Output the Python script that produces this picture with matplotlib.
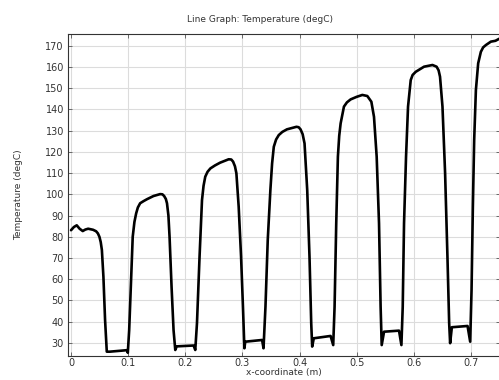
import matplotlib
matplotlib.use("Agg")
import matplotlib.pyplot as plt

x_m = [0.000, 0.005, 0.010, 0.015, 0.0205, 0.025, 0.030, 0.0386, 0.0439, 0.047, 0.0497, 0.052, 0.054, 0.0567, 0.0596, 0.0626,
       0.068, 0.098, 0.0994,
       0.1018, 0.1047, 0.108, 0.111, 0.114, 0.117, 0.121, 0.127, 0.133, 0.1444, 0.156, 0.160, 0.163, 0.166, 0.168, 0.1705, 0.1725, 0.176, 0.1795, 0.1825,
       0.185, 0.2146, 0.2175,
       0.2205, 0.225, 0.2293, 0.232, 0.235, 0.239, 0.244, 0.252, 0.261, 0.276, 0.2805, 0.2837, 0.287, 0.2895, 0.2935, 0.2977, 0.301, 0.3035,
       0.305, 0.3345, 0.337,
       0.3404, 0.3444, 0.349, 0.352, 0.355, 0.359, 0.3637, 0.370, 0.378, 0.3947, 0.3985, 0.4018, 0.4055, 0.4088, 0.4135, 0.4175, 0.4205, 0.4222,
       0.425, 0.4544, 0.459,
       0.4614, 0.4643, 0.4672, 0.4695, 0.472, 0.4778, 0.483, 0.4895, 0.500, 0.510, 0.5187, 0.5258, 0.5304, 0.5351, 0.5392, 0.542, 0.5439,
       0.548, 0.5742, 0.5784,
       0.5807, 0.583, 0.5865, 0.590, 0.5947, 0.598, 0.6035, 0.618, 0.6328, 0.640, 0.6435, 0.646, 0.6503, 0.6549, 0.659, 0.662, 0.6637,
       0.6667, 0.6942, 0.6988,
       0.7012, 0.7035, 0.7058, 0.7088, 0.7128, 0.7175, 0.7215, 0.7263, 0.735, 0.743, 0.750]
temp_c = [83.1, 84.6, 85.4, 83.8, 82.7, 83.4, 83.8, 83.3, 82.6, 81.6, 80.0, 77.5, 73.8, 61.2, 40.8, 25.9,
          25.9, 26.6, 25.4,
          36.0, 56.5, 80.0, 87.0, 91.0, 93.8, 95.8, 96.8, 97.7, 99.2, 100.1, 100.0, 99.2, 97.8, 95.8, 90.0, 80.0, 56.5, 36.0, 26.7,
          28.4, 28.8, 26.7,
          39.3, 70.6, 97.3, 104.0, 108.3, 110.6, 112.2, 113.6, 114.9, 116.5, 116.4, 115.4, 113.2, 109.9, 94.2, 70.6, 47.0, 27.5,
          30.6, 31.4, 27.5,
          47.0, 78.5, 102.0, 114.5, 122.4, 125.8, 127.9, 129.4, 130.6, 131.8, 131.6, 130.6, 128.3, 124.0, 102.0, 70.6, 39.3, 28.3,
          32.2, 33.3, 29.0,
          47.0, 86.4, 117.7, 127.5, 133.4, 141.3, 143.3, 144.7, 145.9, 146.8, 146.3, 143.6, 136.5, 117.7, 86.4, 47.0, 29.0,
          35.3, 35.8, 29.0,
          47.0, 86.4, 117.7, 141.3, 153.8, 156.2, 157.7, 160.1, 160.9, 160.1, 158.4, 155.4, 141.3, 109.9, 70.6, 39.3, 29.9,
          37.4, 38.0, 30.6,
          55.0, 94.2, 125.6, 149.1, 161.7, 167.1, 169.2, 170.3, 171.9, 172.3, 173.3]

xticks = [0, 0.1, 0.2, 0.3, 0.4, 0.5, 0.6, 0.7]
xtick_labels = ["0", "0.1", "0.2", "0.3", "0.4", "0.5", "0.6", "0.7"]
yticks = list(range(30, 171, 10))

plt.rcParams['font.family'] = ['DejaVu Sans']
fig = plt.figure(figsize=(4.99, 3.80), dpi=100)
ax = fig.add_axes([68/499, 1-355.7/380, 1-68/499 + 0.002, (355.7-34)/380])
ax.plot(x_m, temp_c, color='black', lw=1.9, solid_joinstyle='round', solid_capstyle='round')
ax.set_xlim(-0.0053, 0.751)
ax.set_ylim(24.0, 175.5)
ax.set_xticks(xticks)
ax.set_xticklabels(xtick_labels)
ax.set_yticks(yticks)
ax.grid(True, color='#dcdcdc', lw=0.8)
ax.set_axisbelow(True)
ax.tick_params(direction='in', length=3, width=0.6, colors='#555555', labelcolor='#333333',
               labelsize=7, top=True, right=True, pad=3)
ax.tick_params(axis='x', pad=2)
for s in ax.spines.values():
    s.set_color('#333333')
    s.set_linewidth(0.8)
fig.text(260/499, 1-19/380, "Line Graph: Temperature (degC)", fontsize=6.5, color='#333333',
         ha='center', va='center')
ax.set_xlabel("x-coordinate (m)", fontsize=6.5, color='#333333', labelpad=0)
ax.set_ylabel("Temperature (degC)", fontsize=6.5, color='#333333', labelpad=16)
fig.savefig("out.png", dpi=100)
